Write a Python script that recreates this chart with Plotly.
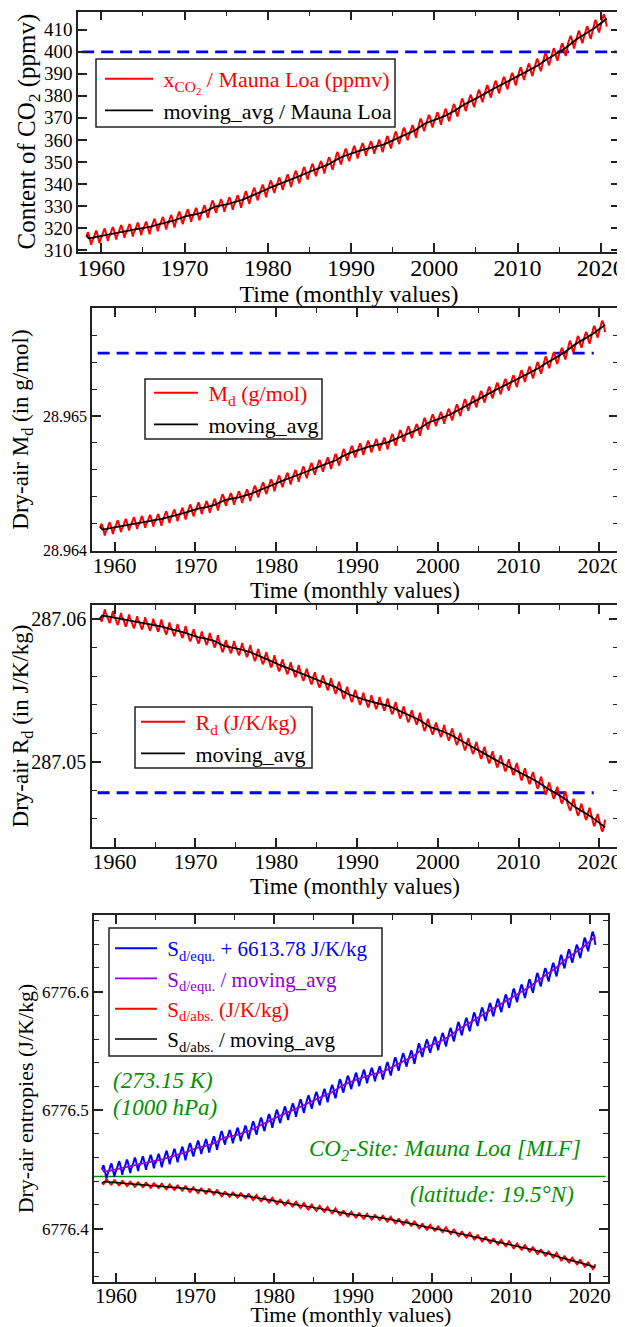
import numpy as np
import pandas as pd
import plotly.graph_objects as go

# ---------------- data ----------------
years = list(range(1958, 2021))
co2_annual = [315.23, 315.98, 316.91, 317.64, 318.45, 318.99, 319.62, 320.04, 321.37, 322.18,
              323.05, 324.62, 325.68, 326.32, 327.46, 329.68, 330.19, 331.13, 332.03, 333.84,
              335.41, 336.84, 338.76, 340.12, 341.48, 343.15, 344.87, 346.35, 347.61, 349.31,
              351.69, 353.20, 354.45, 355.70, 356.54, 357.21, 358.96, 360.97, 362.74, 363.88,
              366.84, 368.54, 369.71, 371.32, 373.45, 375.98, 377.70, 379.98, 382.09, 384.02,
              385.83, 387.64, 390.10, 391.85, 394.06, 396.74, 398.81, 401.01, 404.41, 406.76,
              408.72, 411.66, 414.24]
# mean monthly deviation from the calendar-year mean (Jan..Dec), ppmv
co2_season = [-0.7, 0.0, 0.9, 2.2, 2.8, 2.2, 0.9, -1.1, -2.8, -2.9, -1.4, -0.1]
first_month = (1958, 3)   # March 1958
last_month = (2020, 9)    # September 2020

# values of the derived quantities read at two CO2 levels
co2_anchor = [315.0, 410.0]
md_anchor = [28.964149, 28.965604]      # g/mol
rd_anchor = [287.0603, 287.04614]       # J/K/kg
s_equ_anchor = [6776.4475, 6776.6366]   # J/K/kg (+6613.78)
s_abs_anchor = [6776.4399, 6776.3710]   # J/K/kg

# reference lines
co2_ref = 400.0
md_ref = 28.96547
rd_ref = 287.04782
s_site_ref = 6776.444
ref_years_p1 = [1957.7, 2021.9]
ref_years_p23 = [1957.9, 2019.3]
ref_years_p4 = [1957.2, 2022.0]

x_ticks = [1960, 1970, 1980, 1990, 2000, 2010, 2020]

# ---------------- build monthly series ----------------
t, co2 = [], []
for i, y in enumerate(years):
    for m in range(12):
        if (y, m + 1) < first_month or (y, m + 1) > last_month:
            continue
        t.append(y + (m + 0.5) / 12.0)
        co2.append(co2_annual[i] + co2_season[m])
t = np.array(t)
co2 = np.array(co2)
co2_ma = pd.Series(co2).rolling(12, center=True, min_periods=1).mean().to_numpy()


def conv(v, anchor):
    return anchor[0] + (v - co2_anchor[0]) * (anchor[1] - anchor[0]) / (co2_anchor[1] - co2_anchor[0])


md, md_ma = conv(co2, md_anchor), conv(co2_ma, md_anchor)
rd, rd_ma = conv(co2, rd_anchor), conv(co2_ma, rd_anchor)
se, se_ma = conv(co2, s_equ_anchor), conv(co2_ma, s_equ_anchor)
sa, sa_ma = conv(co2, s_abs_anchor), conv(co2_ma, s_abs_anchor)

# ---------------- figure ----------------
OFF = 8                      # page offset of the plot div (body margin)
W, H = 625 - OFF, 1327 - OFF
FONT = "Liberation Serif, Times New Roman, Times, serif"
RED, BLUE, BLACK, PURPLE, GREEN = "#ff0000", "#0000ff", "#000000", "#9400d3", "#009000"
LINE = "#222222"


def px(x):
    return (x - OFF) / W


def py(y):
    return 1 - (y - OFF) / H


def ydom(top, bottom):
    return [py(bottom), py(top)]


def xdom(left, right):
    return [px(left), px(right)]


fig = go.Figure()


def add(x, y, name, color, width, xa, ya, legend, show=True, dash=None):
    fig.add_trace(go.Scatter(x=x, y=y, mode="lines", name=name,
                             line=dict(color=color, width=width, dash=dash),
                             xaxis=xa, yaxis=ya, legend=legend, showlegend=show))


def span(txt, color):
    return f"<span style='color:{color}'>&nbsp;{txt}</span>"


DASH = "12px,7px"
# panel 1
add(ref_years_p1, [co2_ref, co2_ref], "400 ppmv", BLUE, 2.8, "x", "y", "legend", False, DASH)
add(t, co2, span("x<sub>CO<sub>2</sub></sub> / Mauna Loa (ppmv)", RED), RED, 2, "x", "y", "legend")
add(t, co2_ma, span("moving_avg / Mauna Loa", BLACK), BLACK, 1.8, "x", "y", "legend")
# panel 2
add(ref_years_p23, [md_ref, md_ref], "ref", BLUE, 2.8, "x2", "y2", "legend2", False, DASH)
add(t, md, span("M<sub>d</sub> (g/mol)", RED), RED, 2, "x2", "y2", "legend2")
add(t, md_ma, span("moving_avg", BLACK), BLACK, 1.8, "x2", "y2", "legend2")
# panel 3
add(ref_years_p23, [rd_ref, rd_ref], "ref", BLUE, 2.8, "x3", "y3", "legend3", False, DASH)
add(t, rd, span("R<sub>d</sub> (J/K/kg)", RED), RED, 2, "x3", "y3", "legend3")
add(t, rd_ma, span("moving_avg", BLACK), BLACK, 1.8, "x3", "y3", "legend3")
# panel 4
add(ref_years_p4, [s_site_ref, s_site_ref], "site", GREEN, 1.5, "x4", "y4", "legend4", False)
add(t, se, span("S<sub>d/equ.</sub> + 6613.78 J/K/kg", BLUE), BLUE, 2, "x4", "y4", "legend4")
add(t, se_ma, span("S<sub>d/equ.</sub> / moving_avg", PURPLE), PURPLE, 1.8, "x4", "y4", "legend4")
add(t, sa, span("S<sub>d/abs.</sub> (J/K/kg)", RED), RED, 2, "x4", "y4", "legend4")
add(t, sa_ma, span("S<sub>d/abs.</sub> / moving_avg", BLACK), BLACK, 1.5, "x4", "y4", "legend4")


def xaxis(dom, anchor, fsize, tsize, standoff):
    return dict(domain=dom, anchor=anchor, range=[1957.2, 2022.3], tickvals=x_ticks,
                ticktext=[str(v) for v in x_ticks], automargin=False, ticklabelstandoff=-6,
                showline=True, linecolor=LINE, linewidth=1.5, mirror="ticks",
                ticks="inside", ticklen=9, tickwidth=1.5, tickcolor=LINE,
                minor=dict(dtick=5, tick0=1955, ticks="inside", ticklen=5, tickwidth=1.3, tickcolor=LINE),
                showgrid=False, zeroline=False,
                tickfont=dict(family=FONT, size=fsize, color="black"),
                title=dict(text="Time (monthly values)", font=dict(family=FONT, size=tsize, color="black"),
                           standoff=standoff))


def yaxis(dom, anchor, rng, dtick, minor, fsize, title, tsize, standoff, fmt):
    d = dict(domain=dom, anchor=anchor, range=rng, dtick=dtick, tick0=0, tickformat=fmt,
             automargin=False, ticklabelstandoff=0,
             showline=True, linecolor=LINE, linewidth=1.5, mirror="ticks",
             ticks="inside", ticklen=9, tickwidth=1.5, tickcolor=LINE,
             showgrid=False, zeroline=False,
             tickfont=dict(family=FONT, size=fsize, color="black"),
             title=dict(text=title, font=dict(family=FONT, size=tsize, color="black"), standoff=standoff))
    if minor:
        d["minor"] = dict(dtick=minor, ticks="inside", ticklen=5, tickwidth=1.3, tickcolor=LINE)
    return d


fig.update_layout(
    template="none",
    width=W, height=H, margin=dict(l=0, r=0, t=0, b=0, autoexpand=False),
    paper_bgcolor="white", plot_bgcolor="white",
    xaxis=xaxis(xdom(78, 620), "y", 24, 24, 0),
    xaxis2=xaxis(xdom(92, 618), "y2", 22, 23, 0),
    xaxis3=xaxis(xdom(92, 618), "y3", 22, 23, 0),
    xaxis4=xaxis(xdom(94, 608), "y4", 21, 22, 0),
    yaxis=yaxis(ydom(11.5, 251.7), "x", [309.2, 418.3], 10, None, 19,
                "Content of CO<sub>2</sub> (ppmv)", 25, 1, ".0f"),
    yaxis2=yaxis(ydom(308, 551), "x2", [28.963993, 28.965806], 0.001, 0.0002, 16,
                 "Dry-air M<sub>d</sub> (in g/mol)", 23, 10, ".3f"),
    yaxis3=yaxis(ydom(605, 847), "x3", [287.04401, 287.061004], 0.01, 0.002, 20,
                 "Dry-air R<sub>d</sub> (in J/K/kg)", 23, 0, ".2f"),
    yaxis4=yaxis(ydom(915, 1282), "x4", [6776.355, 6776.6647], 0.1, 0.02, 17,
                 "Dry-air entropies (J/K/kg)", 22, 2, ".1f"),
    showlegend=True,
)

# legend frames (page pixel boxes)
legend_boxes = [(96, 59, 395, 127), (145, 379, 322, 439), (135, 707, 312, 768), (109, 928, 382, 1056)]
for (x0, y0, x1, y1) in legend_boxes:
    fig.add_shape(type="rect", xref="paper", yref="paper", x0=px(x0), x1=px(x1), y0=py(y1), y1=py(y0),
                  fillcolor="white", line=dict(color=LINE, width=1.5), layer="above")

leg_common = dict(xanchor="left", yanchor="top", borderwidth=0, bgcolor="rgba(0,0,0,0)",
                  tracegroupgap=0, xref="paper", yref="paper")
fig.update_layout(
    legend=dict(x=px(100), y=py(58), itemwidth=48, font=dict(family=FONT, size=22, color="black"), **leg_common),
    legend2=dict(x=px(149), y=py(372), itemwidth=44, font=dict(family=FONT, size=22, color="black"), **leg_common),
    legend3=dict(x=px(136), y=py(701), itemwidth=44, font=dict(family=FONT, size=22, color="black"), **leg_common),
    legend4=dict(x=px(110), y=py(928), itemwidth=42, font=dict(family=FONT, size=21, color="black"), **leg_common),
)

gfont = dict(family=FONT, size=23, color=GREEN)
notes = [
    ("<i>(273.15 K)</i>", 1959.3, 6776.525, "left"),
    ("<i>(1000 hPa)</i>", 1959.3, 6776.5025, "left"),
    ("<i>CO<sub>2</sub>-Site: Mauna Loa [MLF]</i>", 2019.1, 6776.466, "right"),
    ("<i>(latitude: 19.5°N)</i>", 2018.3, 6776.4287, "right"),
]
for txt, xx, yy, anc in notes:
    fig.add_annotation(text=txt, x=xx, y=yy, xref="x4", yref="y4", xanchor=anc, yanchor="middle",
                       showarrow=False, font=gfont)

fig.write_html("out.html")
